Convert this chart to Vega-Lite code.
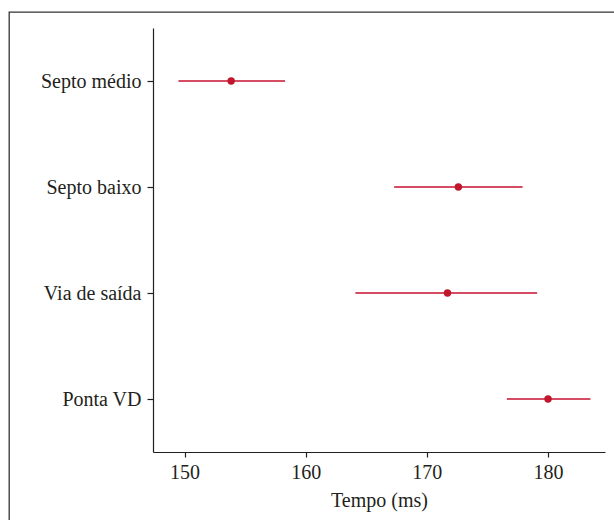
{
  "$schema": "https://vega.github.io/schema/vega-lite/v6.json",
  "autosize": "none",
  "width": 660,
  "height": 560,
  "padding": {"left": 9, "top": 12, "right": 0, "bottom": 0},
  "background": "white",
  "config": {
    "view": {"stroke": "#333333", "strokeWidth": 1.3},
    "font": "Liberation Serif",
    "axis": {
      "labelFont": "Liberation Serif",
      "titleFont": "Liberation Serif",
      "labelColor": "#231f20",
      "titleColor": "#231f20",
      "domainColor": "#231f20",
      "tickColor": "#231f20",
      "grid": false
    }
  },
  "data": {
    "values": [
      {"local": "Septo médio", "media": 153.85, "lo": 149.5, "hi": 158.3},
      {"local": "Septo baixo", "media": 172.6, "lo": 167.3, "hi": 177.9},
      {"local": "Via de saída", "media": 171.7, "lo": 164.1, "hi": 179.1},
      {"local": "Ponta VD", "media": 180.0, "lo": 176.6, "hi": 183.5}
    ]
  },
  "encoding": {
    "y": {
      "field": "local",
      "type": "nominal",
      "sort": ["Septo médio", "Septo baixo", "Via de saída", "Ponta VD"],
      "scale": {"type": "point", "padding": 0.5, "range": [16, 440]},
      "axis": {"title": null, "offset": -144, "labelFontSize": 20, "tickSize": 6, "labelPadding": 6, "domainWidth": 1.2, "tickWidth": 1.2}
    }
  },
  "layer": [
    {
      "mark": {"type": "rule", "color": "#c8102e", "strokeWidth": 1.5},
      "encoding": {
        "x": {
          "field": "lo",
          "type": "quantitative",
          "scale": {"domain": [147.4, 184.7], "nice": false, "zero": false, "range": [144, 596]},
          "axis": {
            "title": "Tempo (ms)",
            "offset": -120,
            "values": [150, 160, 170, 180],
            "labelFontSize": 20,
            "titleFontSize": 20,
            "titleFontWeight": "normal",
            "titleX": 370,
            "tickSize": 5,
            "labelPadding": 5,
            "titlePadding": 8,
            "domainWidth": 1.2,
            "tickWidth": 1.2
          }
        },
        "x2": {"field": "hi"}
      }
    },
    {
      "mark": {"type": "circle", "color": "#c0172d", "opacity": 1, "size": 55},
      "encoding": {
        "x": {"field": "media", "type": "quantitative"}
      }
    }
  ]
}
